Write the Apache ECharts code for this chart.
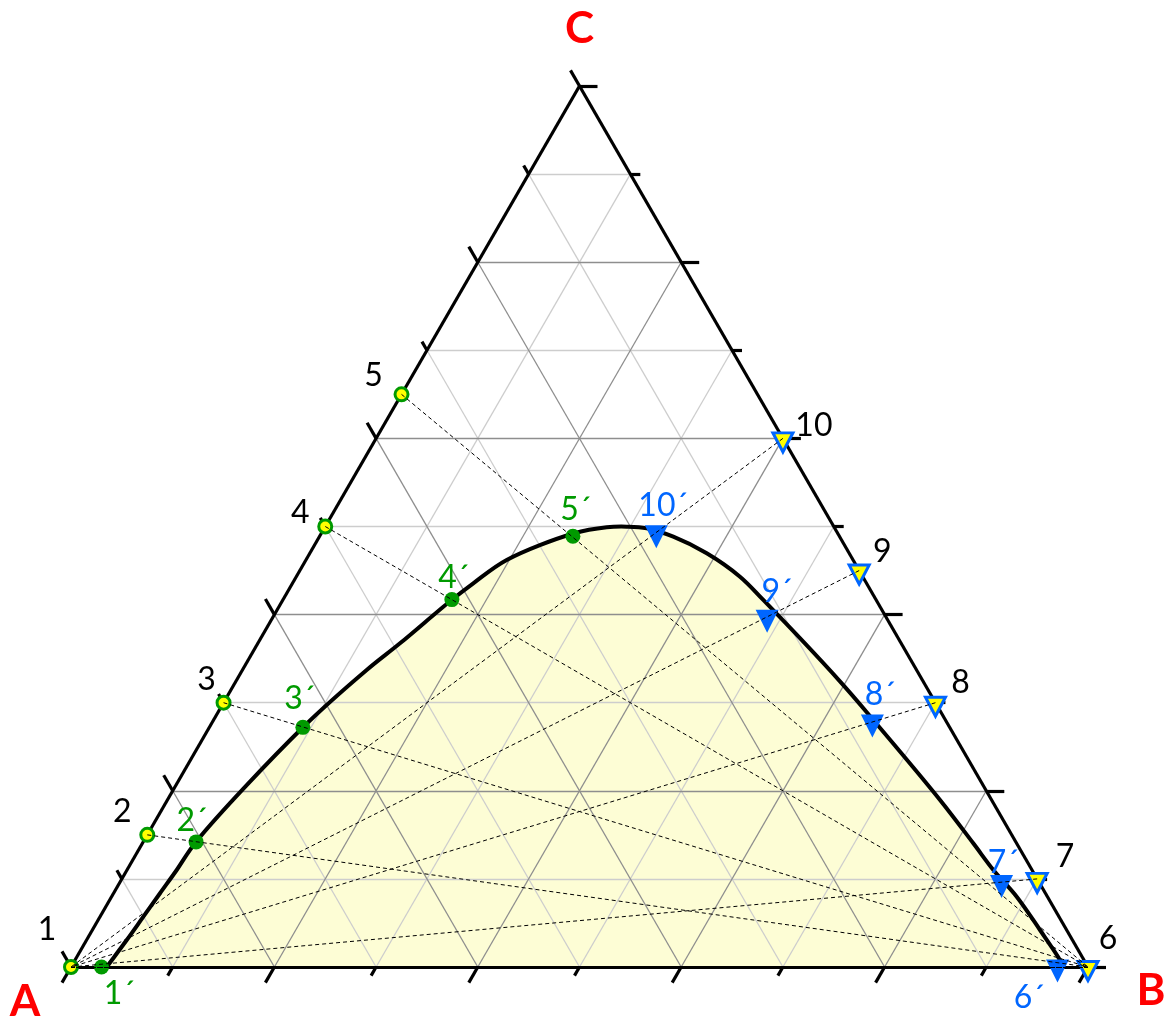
<!DOCTYPE html>
<html>
<head>
<meta charset="utf-8">
<script src="https://cdn.jsdelivr.net/npm/echarts@6/dist/echarts.min.js"></script>
<style>
  html, body { margin: 0; padding: 0; background: #ffffff; }
  #chart { width: 1166px; height: 1019px; }
</style>
</head>
<body>
<div id="chart"></div>
<script>
// Ternary compositions in percent, written as [A, B, C].
const vertexNames = ['A', 'B', 'C'];
const vertexPoints = [[100, 0, 0], [0, 100, 0], [0, 0, 100]];

// Points on the A–C side and where their lines toward B cross the boundary curve
const feedNames = ['1', '2', '3', '4', '5'];
const feedPoints = [[100, 0, 0], [85, 0, 15], [70, 0, 30], [50, 0, 50], [35, 0, 65]];
const feedPrimeNames = ['1´', '2´', '3´', '4´', '5´'];
const feedPrimePoints = [[97, 3, 0], [80.6, 5.2, 14.2], [63.6, 9.2, 27.2], [41.7, 16.6, 41.7], [26.2, 24.9, 48.9]];

// Points on the B–C side and where their lines toward A cross the boundary curve
const solventNames = ['6', '7', '8', '9', '10'];
const solventPoints = [[0, 100, 0], [0, 90, 10], [0, 70, 30], [0, 55, 45], [0, 40, 60]];
const solventPrimeNames = ['6´', '7´', '8´', '9´', '10´'];
const solventPrimePoints = [[3, 97, 0], [3.7, 86.7, 9.6], [7.3, 64.9, 27.8], [11.7, 48.6, 39.7], [17.8, 32.9, 49.3]];

// Boundary curve of the two-phase region, from the A–B side back to the A–B side
const binodalCurve = [
  [96.49, 3.51, 0.00], [92.99, 3.95, 3.06], [90.03, 4.26, 5.71], [87.06, 4.57, 8.37],
  [84.10, 4.89, 11.01], [80.49, 5.21, 14.30], [63.54, 9.22, 27.24],
  [54.07, 12.22, 33.71], [49.28, 13.98, 36.74], [41.84, 16.56, 41.60],
  [38.67, 17.78, 43.55], [34.06, 19.74, 46.20], [25.98, 24.81, 49.21],
  [22.37, 27.72, 49.91], [20.37, 29.65, 49.98], [18.49, 31.71, 49.80], [16.36, 34.80, 48.84],
  [14.01, 39.03, 46.96], [12.07, 43.63, 44.30], [11.10, 47.24, 41.66], [8.18, 59.40, 32.42],
  [7.09, 64.87, 28.04], [5.07, 75.97, 18.96], [4.26, 81.70, 14.04],
  [3.80, 85.19, 11.01], [3.02, 89.00, 7.98], [2.62, 93.18, 4.20], [2.36, 96.85, 0.79],
  [2.46, 97.54, 0.00]
];

// Grid and tick levels (percent)
const gridLevels = [10, 20, 30, 40, 50, 60, 70, 80, 90];
const tickLevels = [0, 10, 20, 30, 40, 50, 60, 70, 80, 90, 100];

// ---- label placement (pixels, relative to each marker) ----
const vertexLabelOffsets = [[-46, 35], [63, 24], [0, -57]];
const feedLabelOffsets = [[-24, -37], [-25, -23], [-17, -23], [-25, -14], [-28, -19]];
const feedPrimeLabelOffsets = [[18, 27], [-4, -21], [-3, -29], [2, -22], [3, -27]];
const solventLabelOffsets = [[20, -32], [28, -26], [25, -24], [23, -23], [31, -17]];
const solventPrimeLabelOffsets = [[-28, 27], [2, -24], [8, -31], [10, -30], [7, -31]];

const SQRT3_2 = Math.sqrt(3) / 2;
// [A, B, C] -> plane coordinates with A at (0,0), B at (1,0), C at (0.5, sqrt(3)/2)
function project(p) {
  const b = p[1] / 100, c = p[2] / 100;
  return [b + c / 2, c * SQRT3_2];
}
function seg(p, q) { return { coords: [project(p), project(q)] }; }

const GREEN = '#009a00';
const BLUE = '#0066ff';
const YELLOW = '#ffff00';
const FONT = 'Lato';

// grid lines parallel to each side
const lightGrid = [], darkGrid = [];
gridLevels.forEach(v => {
  const list = (v % 20 === 0) ? darkGrid : lightGrid;
  list.push(seg([100 - v, 0, v], [0, 100 - v, v]));   // constant C
  list.push(seg([v, 100 - v, 0], [v, 0, 100 - v]));   // constant A
  list.push(seg([100 - v, v, 0], [0, v, 100 - v]));   // constant B
});

// outward ticks continuing the grid lines past each side
const TICK_MAJOR = 1.77, TICK_MINOR = 0.98;
const ticks = [];
tickLevels.forEach(v => {
  const d = (v % 20 === 0) ? TICK_MAJOR : TICK_MINOR;
  ticks.push(seg([100 - v, 0, v], [100 - v, -d, v + d]));   // A–C side
  ticks.push(seg([100 - v, v, 0], [100 - v + d, v, -d]));   // A–B side
  ticks.push(seg([0, 100 - v, v], [-d, 100 - v + d, v]));   // B–C side
});

const sides = [
  seg(vertexPoints[0], vertexPoints[1]),
  seg(vertexPoints[1], vertexPoints[2]),
  seg(vertexPoints[2], vertexPoints[0])
];

// dashed lines: each A–C point toward point 6, each B–C point toward point 1
const dashed = [];
feedPoints.forEach(p => dashed.push(seg(p, solventPoints[0])));
solventPoints.forEach(p => dashed.push(seg(p, feedPoints[0])));

const curveXY = binodalCurve.map(project);

// centripetal Catmull-Rom spline through pixel points, as SVG path data
function splinePath(pts) {
  const n = pts.length;
  const P = (i) => {
    if (i < 0) return [2 * pts[0][0] - pts[1][0], 2 * pts[0][1] - pts[1][1]];
    if (i >= n) return [2 * pts[n - 1][0] - pts[n - 2][0], 2 * pts[n - 1][1] - pts[n - 2][1]];
    return pts[i];
  };
  const dist = (a, b) => Math.pow(Math.hypot(b[0] - a[0], b[1] - a[1]), 0.5) || 1e-6;
  let d = 'M' + pts[0][0] + ',' + pts[0][1];
  for (let i = 0; i < n - 1; i++) {
    const p0 = P(i - 1), p1 = P(i), p2 = P(i + 1), p3 = P(i + 2);
    const d1 = dist(p0, p1), d2 = dist(p1, p2), d3 = dist(p2, p3);
    const c1 = [0, 1].map(k => (d1 * d1 * p2[k] - d2 * d2 * p0[k] + (2 * d1 * d1 + 3 * d1 * d2 + d2 * d2) * p1[k]) / (3 * d1 * (d1 + d2)));
    const c2 = [0, 1].map(k => (d3 * d3 * p1[k] - d2 * d2 * p3[k] + (2 * d3 * d3 + 3 * d3 * d2 + d2 * d2) * p2[k]) / (3 * d3 * (d3 + d2)));
    d += ' C' + c1[0] + ',' + c1[1] + ' ' + c2[0] + ',' + c2[1] + ' ' + p2[0] + ',' + p2[1];
  }
  return d;
}

function curveSeries(filled, z) {
  return {
    type: 'custom', coordinateSystem: 'cartesian2d', data: [0], z: z, silent: true, clip: false,
    renderItem: (params, api) => {
      const pts = curveXY.map(p => api.coord(p));
      const path = splinePath(pts) + (filled ? ' Z' : '');
      return {
        type: 'path',
        shape: { pathData: path },
        style: filled
          ? { fill: '#fdfdd5', stroke: null }
          : { fill: null, stroke: '#000000', lineWidth: 4, lineJoin: 'round' }
      };
    }
  };
}

function markerSeries(points, names, offsets, symbolOpts, labelOpts, z) {
  const s = Object.assign({
    type: 'scatter',
    z: z,
    clip: false,
    silent: true,
    data: points.map((p, i) => ({ value: project(p), name: names[i], label: { offset: offsets[i] } })),
    label: Object.assign({
      show: true, position: 'inside', formatter: '{b}',
      fontFamily: FONT, fontSize: 32, align: 'center', verticalAlign: 'middle',
      textBorderWidth: 0, textShadowBlur: 0
    }, labelOpts)
  }, symbolOpts);
  s.itemStyle = Object.assign({ opacity: 1 }, s.itemStyle);
  return s;
}

function segSeries(data, color, width, z, type) {
  return {
    type: 'lines', coordinateSystem: 'cartesian2d', z: z, silent: true, clip: false,
    data: data,
    lineStyle: { color: color, width: width, type: type || 'solid', opacity: 1, cap: 'butt' }
  };
}

const chart = echarts.init(document.getElementById('chart'), null, { renderer: 'canvas' });
chart.setOption({
  animation: false,
  backgroundColor: '#ffffff',
  grid: { left: 71, right: 78, top: 86, bottom: 52 },
  xAxis: { type: 'value', min: 0, max: 1, show: false },
  yAxis: { type: 'value', min: 0, max: SQRT3_2, show: false },
  series: [
    curveSeries(true, 1),                       // two-phase region fill
    segSeries(lightGrid, '#cdcdcd', 1.3, 2),
    segSeries(darkGrid, '#8e8e8e', 1.3, 3),
    segSeries(sides, '#000000', 3.2, 4),
    segSeries(ticks, '#000000', 3.2, 4),
    curveSeries(false, 5),                      // boundary curve
    markerSeries(feedPoints, feedNames, feedLabelOffsets,
      { symbol: 'circle', symbolSize: 13, itemStyle: { color: YELLOW, borderColor: GREEN, borderWidth: 3 } },
      { color: '#000000' }, 6),
    markerSeries(feedPrimePoints, feedPrimeNames, feedPrimeLabelOffsets,
      { symbol: 'circle', symbolSize: 15, itemStyle: { color: GREEN } },
      { color: GREEN }, 6),
    markerSeries(solventPoints, solventNames, solventLabelOffsets,
      { symbol: 'triangle', symbolSize: [20, 19], symbolRotate: 180, symbolOffset: [0, 4],
        itemStyle: { color: YELLOW, borderColor: BLUE, borderWidth: 3 } },
      { color: '#000000' }, 6),
    markerSeries(solventPrimePoints, solventPrimeNames, solventPrimeLabelOffsets,
      { symbol: 'triangle', symbolSize: [23, 23], symbolRotate: 180, symbolOffset: [0, 4],
        itemStyle: { color: BLUE } },
      { color: BLUE }, 6),
    segSeries(dashed, '#000000', 1, 7, [4, 3]),
    // vertex names
    markerSeries(vertexPoints, vertexNames, vertexLabelOffsets,
      { symbol: 'circle', symbolSize: 1, itemStyle: { color: 'rgba(0,0,0,0)' } },
      { color: '#ff0000', fontSize: 44, fontWeight: 'bold' }, 8)
  ]
});
</script>
</body>
</html>
